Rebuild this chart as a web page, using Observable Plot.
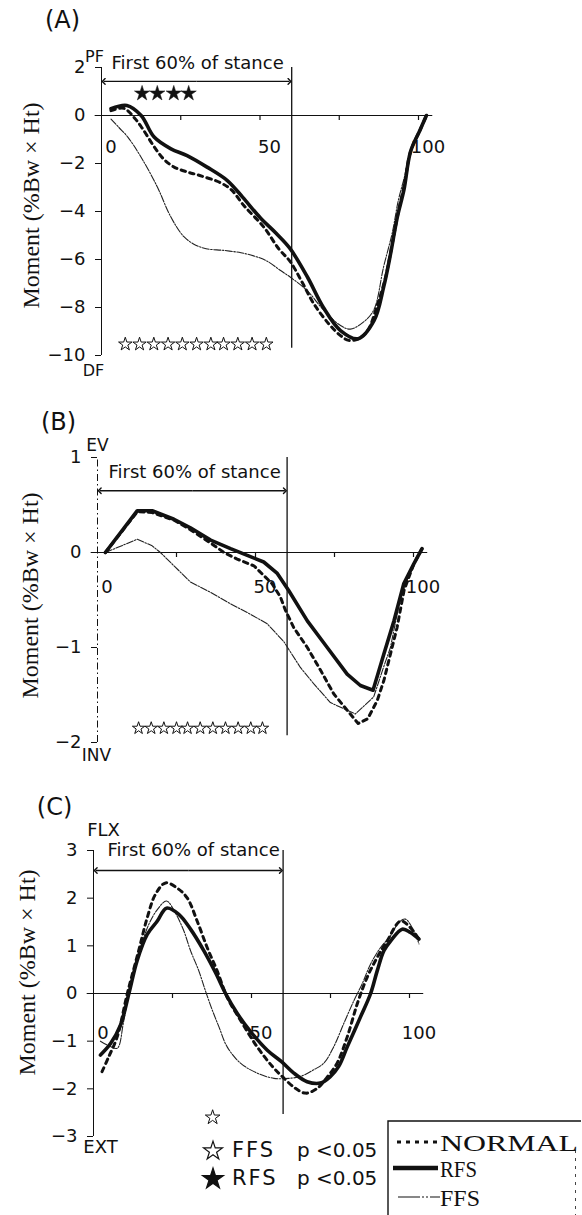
<!DOCTYPE html>
<html><head><meta charset="utf-8">
<script src="https://cdn.jsdelivr.net/npm/d3@7"></script>
<script src="https://cdn.jsdelivr.net/npm/@observablehq/plot@0.6"></script>
<style>
html,body{margin:0;padding:0;background:#fff;}
#wrap{position:relative;width:582px;height:1215px;overflow:hidden;background:#fff;}
</style></head><body><div id="wrap"></div>
<script>
// ---------------- data ----------------
const xTickMarks = [25, 50, 75, 100];
const xTickLabels = [0, 50, 100];
const stanceEnd = 60;
const stanceText = "First 60% of stance";
const yLabelText = "Moment (%Bw × Ht)";

// Panel A (PF / DF)
const aTicks = [2, 0, -2, -4, -6, -8, -10];
const aNormalX = [3, 7, 10.4, 13, 16.6, 19.5, 22.9, 27, 31, 37.5, 41, 44.9, 51.2, 55.9, 59.6, 63.3, 67, 71.7, 75.4, 78, 81, 84, 87, 89.5, 91.5, 93.5, 95.5, 97.5, 100.5, 102.5];
const aNormalY = [0.2, 0.3, -0.1, -0.56, -1.3, -1.8, -2.15, -2.35, -2.5, -2.8, -3.1, -3.75, -4.65, -5.55, -6.1, -6.95, -7.85, -8.68, -9.17, -9.37, -9.3, -8.95, -7.9, -6.8, -5.5, -4.1, -2.9, -1.5, -0.6, 0];
const aRfsX = [3, 8, 12.5, 16.6, 21.9, 27, 33.3, 39.6, 44.5, 50, 55, 59.5, 65, 70, 75.4, 81, 86, 89, 91.2, 93.3, 95.4, 97.5, 100.5, 102.5];
const aRfsY = [0.28, 0.42, 0, -0.9, -1.39, -1.67, -2.15, -2.7, -3.4, -4.25, -4.9, -5.55, -6.74, -8.0, -8.96, -9.3, -8.54, -7.15, -5.76, -4.24, -3.1, -1.5, -0.6, 0];
const aFfsX = [3, 5.5, 8.3, 12.5, 17.7, 21, 23.5, 26, 29, 33, 38.5, 44, 48, 52, 56.5, 59.6, 64.9, 70, 75.4, 78.5, 82.7, 85.9, 89, 91.7, 93.7, 95.5, 97.5, 100.5, 102.5];
const aFfsY = [-0.15, -0.5, -0.9, -1.74, -3.0, -4.0, -4.6, -5.05, -5.35, -5.55, -5.62, -5.72, -5.85, -6.05, -6.46, -6.74, -7.3, -8.1, -8.75, -8.9, -8.6, -8.1, -6.3, -4.9, -3.5, -2.6, -1.5, -0.6, 0];
const aRfsStars = [12.8, 17.6, 22.8, 27.5];
const aFfsStars = [7.5, 12, 16.5, 21, 25.5, 30, 34.5, 38.5, 43, 47.5, 52];

// Panel B (EV / INV)
const bTicks = [1, 0, -1, -2];
const bNormalX = [2.5, 12.6, 17.3, 24.2, 29.4, 35.8, 40, 44.2, 49.5, 55.3, 57.9, 59.5, 62.1, 66.4, 70.6, 74.8, 79, 82.5, 85.5, 88.5, 90.6, 92.7, 94.8, 97, 100.1, 102.7];
const bNormalY = [0, 0.43, 0.42, 0.34, 0.24, 0.1, 0.0, -0.07, -0.14, -0.33, -0.47, -0.61, -0.79, -1.0, -1.24, -1.49, -1.66, -1.8, -1.75, -1.56, -1.35, -1.07, -0.79, -0.4, -0.12, 0.04];
const bRfsX = [2.5, 12.6, 17.3, 24.2, 29.4, 35.8, 42.1, 47.4, 52.6, 56.9, 60.5, 66.4, 72.7, 79, 83.2, 87.2, 90.6, 93.8, 96.9, 100.1, 102.7];
const bRfsY = [0, 0.44, 0.44, 0.35, 0.26, 0.13, 0.04, -0.03, -0.1, -0.22, -0.4, -0.72, -1.0, -1.28, -1.4, -1.45, -1.07, -0.72, -0.33, -0.12, 0.04];
const bFfsX = [2.5, 12.6, 17.3, 19.9, 24.2, 29.4, 35.8, 42.1, 48.4, 53.7, 59, 64.2, 68.4, 73.7, 79, 81.6, 87.4, 90.6, 92.7, 95.9, 100.1, 102.7];
const bFfsY = [0, 0.14, 0.07, 0, -0.14, -0.31, -0.42, -0.54, -0.65, -0.75, -0.94, -1.21, -1.38, -1.58, -1.66, -1.7, -1.52, -1.2, -1.0, -0.47, -0.12, 0.04];
const bFfsStars = [13, 17, 21, 25, 28.5, 32.5, 36.5, 40.5, 44.5, 48.5, 52.2];

// Panel C (FLX / EXT)
const cTicks = [3, 2, 1, 0, -1, -2, -3];
const cNormalX = [2.7, 4.8, 7.5, 10.7, 14.3, 17, 19.6, 22.8, 26.5, 29.7, 32.8, 36, 39.1, 42.3, 46.5, 51.8, 56.6, 59.7, 63.9, 67.1, 70.8, 74, 77.1, 80.3, 83.5, 86.6, 89.8, 92.9, 97.2, 100.3, 103];
const cNormalY = [-1.64, -1.33, -0.91, 0, 0.9, 1.59, 2.08, 2.32, 2.21, 2.0, 1.52, 0.96, 0.48, -0.08, -0.56, -1.12, -1.53, -1.74, -1.99, -2.09, -1.99, -1.75, -1.46, -0.91, -0.21, 0.34, 0.76, 1.1, 1.52, 1.38, 1.14];
const cRfsX = [2.2, 5.4, 8.5, 11.2, 13.8, 17, 20.2, 23.1, 27, 30.7, 34.9, 38.6, 41.8, 45.5, 49.7, 55, 59.5, 63.4, 67.6, 71.8, 75, 77.6, 80.3, 84.5, 87.7, 89.8, 91.9, 94, 97.7, 100.3, 103];
const cRfsY = [-1.29, -1.05, -0.67, 0, 0.69, 1.24, 1.52, 1.79, 1.66, 1.35, 0.9, 0.44, 0, -0.42, -0.8, -1.19, -1.43, -1.67, -1.85, -1.88, -1.74, -1.53, -1.12, -0.49, 0, 0.48, 0.9, 1.1, 1.35, 1.28, 1.14];
const cFfsX = [2.2, 5, 7.5, 9.5, 11.7, 14.3, 17.5, 20.2, 23.1, 25.9, 28.6, 30.7, 33.3, 35.4, 37.6, 39.7, 42.3, 46.5, 51.8, 57.1, 61.8, 65.5, 69.7, 72.9, 76, 79.2, 82.4, 85, 87.7, 90.8, 94, 96.6, 98.7, 101.4, 103];
const cFfsY = [-1.0, -1.1, -1.15, -0.6, 0.2, 0.83, 1.45, 1.76, 1.94, 1.69, 1.31, 0.9, 0.48, 0.06, -0.35, -0.7, -1.12, -1.46, -1.67, -1.78, -1.78, -1.74, -1.6, -1.46, -1.12, -0.63, -0.15, 0.2, 0.62, 0.96, 1.21, 1.49, 1.56, 1.31, 1.04];
const cFfsStars = [37.7];

// legends
const legendGroups = ["NORMAL", "RFS", "FFS"];
const sigGroups = ["FFS", "RFS"];
const sigText = "p <0.05";

// ---------------- drawing ----------------
const SANS = "DejaVu Sans";
const SERIF = "Liberation Serif";
const INK = "#111";
const W = 582;
const wrap = document.getElementById("wrap");
const fmt = d => (d < 0 ? "\u2212" : "") + Math.abs(d);

const styleNormal = {stroke: INK, strokeWidth: 3, strokeDasharray: "4.5,4.5"};
const styleRfs = {stroke: INK, strokeWidth: 3.6};
const styleFfs = {stroke: "#222", strokeWidth: 1.1, strokeDasharray: "7,1.5,1.5,1.5"};

function makePanel(p) {
  const pxY = (p.height - p.mt - p.mb) / (p.yDomain[1] - p.yDomain[0]);
  const ann = (t, px, py, o = {}) => Plot.text([t], {
    text: d => d, frameAnchor: "top-left", dx: px - p.ml, dy: py - p.mt,
    textAnchor: "middle", lineAnchor: "middle", fill: INK, fontFamily: SANS, ...o
  });
  const line = (xs, ys, st) => Plot.line(d3.zip(xs, ys), {x: d => d[0], y: d => d[1], curve: p.curve, ...st});
  const marks = [
    Plot.ruleY([0], {x1: -2, x2: 104.5, stroke: INK, strokeWidth: 1.2}),
    Plot.ruleX(xTickMarks, {x: d => d, y1: 0, y2: -5 / pxY, stroke: INK, strokeWidth: 1.2}),
    Plot.text(xTickLabels, {x: d => d, y: 0, text: d => String(d), dx: 9.5, dy: p.xLabelDy, fontSize: 18, fontFamily: SANS, fill: INK}),
    Plot.ruleX([0], {y1: p.yDomain[0], y2: p.yDomain[1], stroke: INK, strokeWidth: 1, strokeDasharray: p.yAxisDash}),
    Plot.axisY({ticks: p.yTicks, tickFormat: fmt, tickSize: 6, tickPadding: 10, fontSize: 18, fontFamily: SANS, label: null}),
    Plot.ruleX([stanceEnd], {y1: p.yDomain[1], y2: p.vBottom, stroke: INK, strokeWidth: 1.3}),
    Plot.link([0], {x1: stanceEnd / 2, x2: 0.7, y1: p.arrowY, y2: p.arrowY, stroke: INK, strokeWidth: 1.4, markerEnd: "arrow"}),
    Plot.link([0], {x1: stanceEnd / 2, x2: stanceEnd - 0.7, y1: p.arrowY, y2: p.arrowY, stroke: INK, strokeWidth: 1.4, markerEnd: "arrow"}),
    ann(stanceText, p.stanceTextX, p.stanceTextY, {textAnchor: "start", fontSize: 18}),
    ann(p.tag, p.tagPos[0], p.tagPos[1], {fontSize: 24}),
    ann(p.topName, p.topPos[0], p.topPos[1], {fontSize: p.nameSize}),
    ann(p.bottomName, p.bottomPos[0], p.bottomPos[1], {fontSize: p.nameSize}),
    ann(yLabelText, p.yLabelPos[0], p.yLabelPos[1], {rotate: -90, fontFamily: SERIF, fontSize: 24}),
    line(p.ffs[0], p.ffs[1], styleFfs),
    line(p.normal[0], p.normal[1], styleNormal),
    line(p.rfs[0], p.rfs[1], styleRfs),
    Plot.dot(p.ffsStars, {x: d => d, y: p.ffsStarY, symbol: "star", r: p.openR, fill: "white", stroke: INK, strokeWidth: 1})
  ];
  if (p.rfsStars) marks.push(Plot.dot(p.rfsStars, {x: d => d, y: p.rfsStarY, symbol: "star", r: 4.8, fill: INK, stroke: INK, strokeWidth: 0.5}));
  const svg = Plot.plot({
    width: W, height: p.height,
    marginLeft: p.ml, marginRight: p.mr, marginTop: p.mt, marginBottom: p.mb,
    x: {domain: [0, 100], axis: null},
    y: {domain: p.yDomain, axis: null},
    style: {background: "transparent", overflow: "visible", fontFamily: SANS, color: INK},
    marks
  });
  svg.style.position = "absolute";
  svg.style.left = "0px";
  svg.style.top = p.top + "px";
  wrap.appendChild(svg);
}

// Panel A
makePanel({
  top: 0, height: 380, ml: 101, mr: 164, mt: 67, mb: 25,
  yDomain: [-10, 2], yTicks: aTicks, curve: "catmull-rom", xLabelDy: 32,
  vBottom: -9.7, arrowY: 1.42, stanceTextX: 111, stanceTextY: 63,
  tag: "(A)", tagPos: [62, 20], topName: "PF", topPos: [94, 56], bottomName: "DF", bottomPos: [93, 370], nameSize: 16,
  yLabelPos: [31, 205],
  normal: [aNormalX, aNormalY], rfs: [aRfsX, aRfsY], ffs: [aFfsX, aFfsY],
  ffsStars: aFfsStars, ffsStarY: -9.53, openR: 4.2,
  rfsStars: aRfsStars, rfsStarY: 0.92
});

// Panel B
makePanel({
  top: 380, height: 410, ml: 97, mr: 169, mt: 77, mb: 48,
  yDomain: [-2, 1], yTicks: bTicks, curve: "linear", xLabelDy: 35, yAxisDash: "7,3,1.5,3",
  vBottom: -1.93, arrowY: 0.65, stanceTextX: 108, stanceTextY: 92,
  tag: "(B)", tagPos: [58, 42], topName: "EV", topPos: [97, 65], bottomName: "INV", bottomPos: [96, 375], nameSize: 17,
  yLabelPos: [30, 215],
  normal: [bNormalX, bNormalY], rfs: [bRfsX, bRfsY], ffs: [bFfsX, bFfsY],
  ffsStars: bFfsStars, ffsStarY: -1.85, openR: 3.9
});

// Panel C
makePanel({
  top: 790, height: 425, ml: 93, mr: 173, mt: 60, mb: 79,
  yDomain: [-3, 3], yTicks: cTicks, curve: "catmull-rom", xLabelDy: 40,
  vBottom: -2.54, arrowY: 2.58, stanceTextX: 107, stanceTextY: 60,
  tag: "(C)", tagPos: [54, 17], topName: "FLX", topPos: [103, 40], bottomName: "EXT", bottomPos: [100, 357], nameSize: 18,
  yLabelPos: [27, 182],
  normal: [cNormalX, cNormalY], rfs: [cRfsX, cRfsY], ffs: [cFfsX, cFfsY],
  ffsStars: cFfsStars, ffsStarY: -2.6, openR: 4.6
});

// ---------------- legends ----------------
const ov = d3.select(wrap).append("svg")
  .attr("width", W).attr("height", 1215)
  .style("position", "absolute").style("left", "0px").style("top", "0px")
  .style("pointer-events", "none");

// significance key
sigGroups.forEach((g, i) => {
  const cy = 1150 + i * 28;
  const filled = g === "RFS";
  ov.append("path")
    .attr("d", d3.symbol(d3.symbolStar, filled ? 136 : 110)())
    .attr("transform", `translate(213,${cy + 1})`)
    .attr("fill", filled ? INK : "white").attr("stroke", INK).attr("stroke-width", 1.2);
  ov.append("text").attr("x", 232).attr("y", cy).attr("dominant-baseline", "central")
    .attr("font-family", SANS).attr("font-size", 21).attr("letter-spacing", "2px").attr("fill", INK).text(g);
  ov.append("text").attr("x", 297).attr("y", cy).attr("dominant-baseline", "central")
    .attr("font-family", SANS).attr("font-size", 20).attr("fill", INK).text(sigText);
});

// line-style legend box
ov.append("path").attr("d", "M388,1215V1121H581").attr("fill", "none").attr("stroke", INK).attr("stroke-width", 1.4);
ov.append("line").attr("x1", 575.5).attr("x2", 575.5).attr("y1", 1150).attr("y2", 1215)
  .attr("stroke", "#444").attr("stroke-width", 1).attr("stroke-dasharray", "3,5");
const legendStyles = {
  NORMAL: {y: 1142, base: 1151, x1: 397, x2: 438, w: 3, dash: "4,5", len: 138},
  RFS: {y: 1168, base: 1177, x1: 393, x2: 438, w: 4.5, dash: null, len: 37},
  FFS: {y: 1197, base: 1206, x1: 398, x2: 440, w: 1.2, dash: "22,2,2,2,2,2", len: 40}
};
legendGroups.forEach(g => {
  const s = legendStyles[g];
  ov.append("line").attr("x1", s.x1).attr("x2", s.x2).attr("y1", s.y).attr("y2", s.y)
    .attr("stroke", INK).attr("stroke-width", s.w).attr("stroke-dasharray", s.dash);
  ov.append("text").attr("x", 440).attr("y", s.base)
    .attr("font-family", SERIF).attr("font-size", 23).attr("fill", INK)
    .attr("textLength", s.len).attr("lengthAdjust", "spacingAndGlyphs").text(g);
});
</script></body></html>
